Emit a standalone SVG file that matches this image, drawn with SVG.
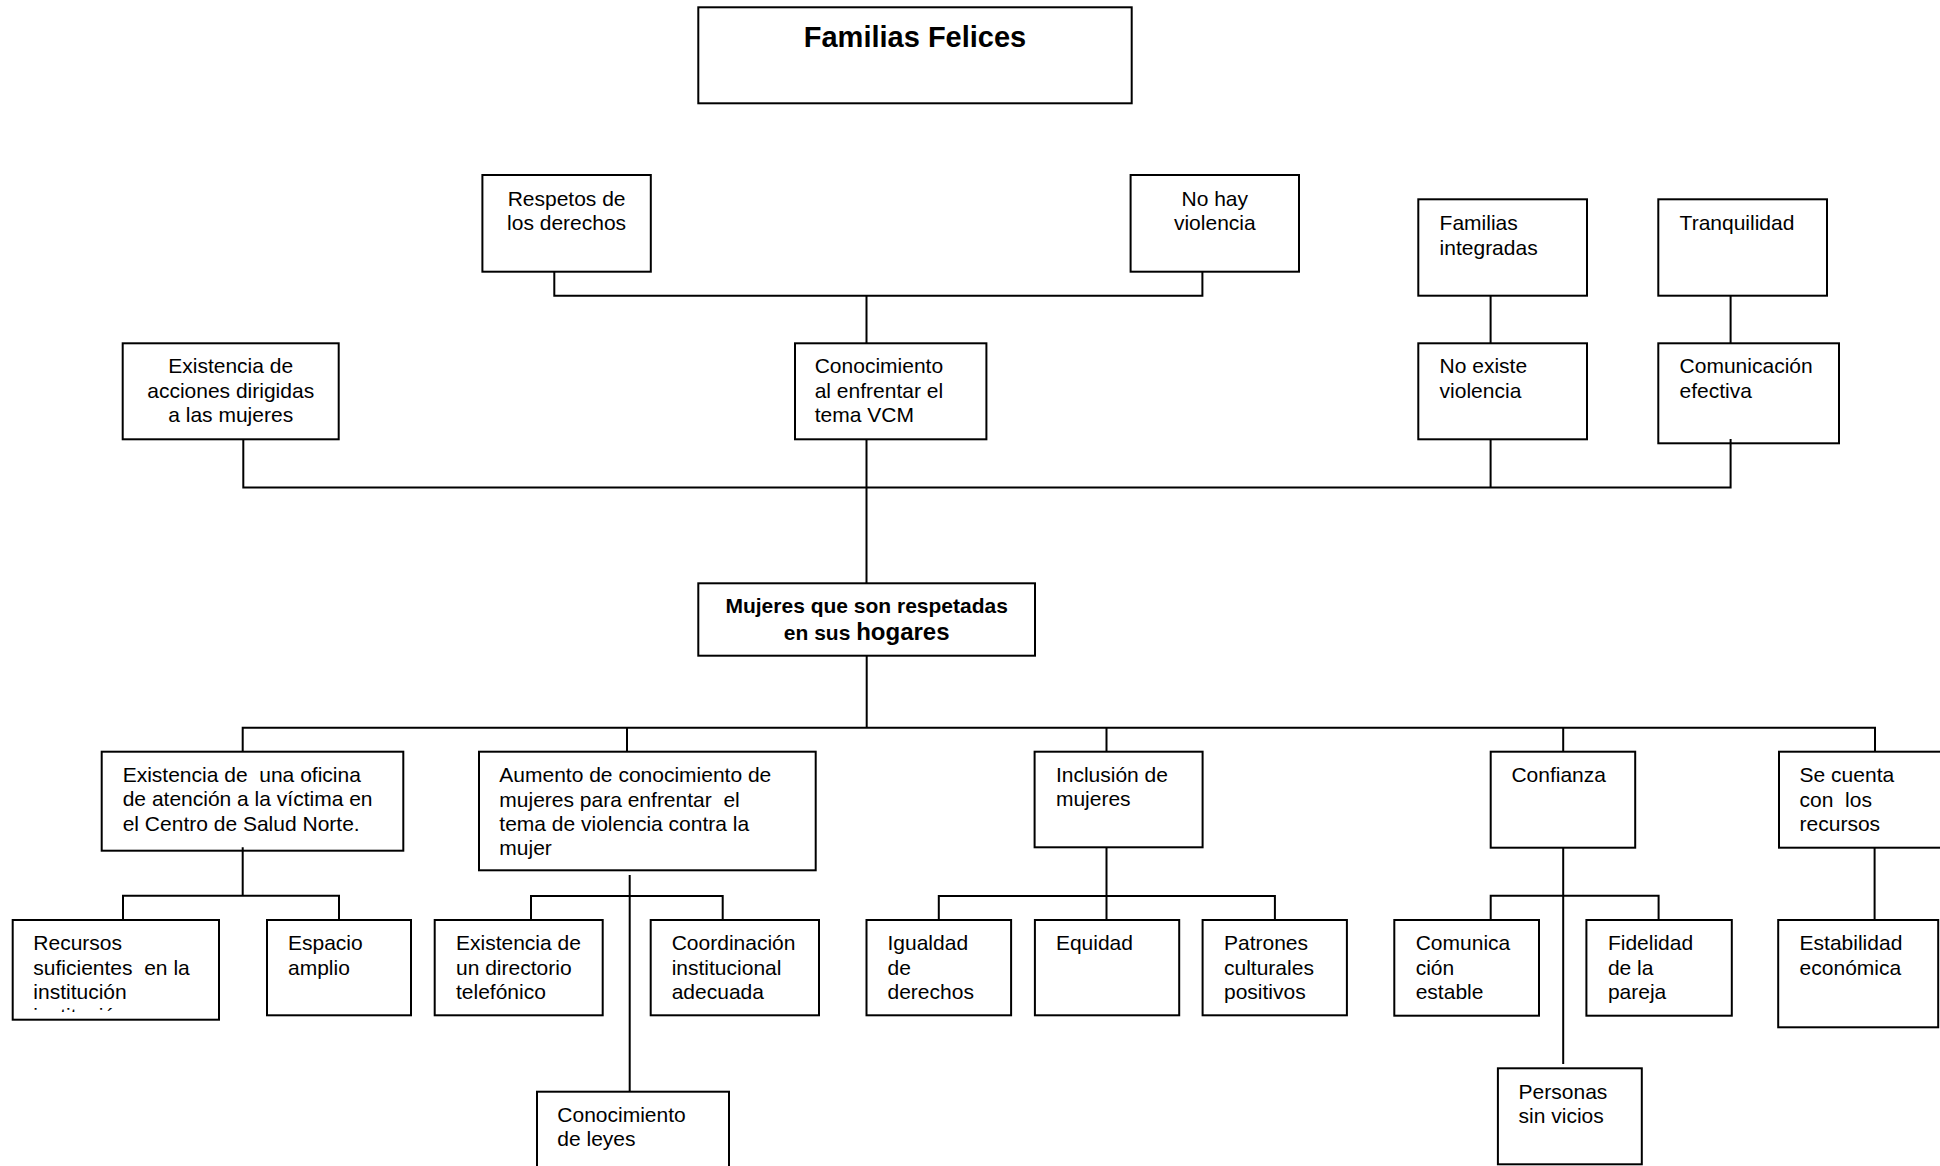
<svg xmlns="http://www.w3.org/2000/svg" width="1940" height="1166" viewBox="0 0 1940 1166">
<style>
.box{fill:#fff;stroke:#000;stroke-width:2}
.t{font-family:"Liberation Sans",Arial,sans-serif;font-size:21px;fill:#000}
.c{text-anchor:middle}
.b{font-weight:bold}
.conn{fill:none;stroke:#000;stroke-width:2}
</style>
<defs>
<clipPath id="clipRec"><rect x="14" y="930" width="204" height="82"/></clipPath>
</defs>
<rect x="0" y="0" width="1940" height="1166" fill="#fff"/>
<g id="n-familias"><rect class="box" x="698.3" y="7.3" width="433.4" height="96"/><text class="t b c" x="915" y="46.7" style="font-size:29px">Familias Felices</text></g>
<g id="n-respetos"><rect class="box" x="482.4" y="175" width="168.4" height="96.7"/><text class="t c"><tspan x="566.6" y="205.7">Respetos de</tspan><tspan x="566.6" y="230">los derechos</tspan></text></g>
<g id="n-nohay"><rect class="box" x="1130.6" y="175" width="168.4" height="96.7"/><text class="t c"><tspan x="1214.8" y="205.7">No hay</tspan><tspan x="1214.8" y="230">violencia</tspan></text></g>
<g id="n-famint"><rect class="box" x="1418.3" y="199.3" width="168.7" height="96.4"/><text class="t"><tspan x="1439.6" y="230">Familias</tspan><tspan x="1439.6" y="254.7">integradas</tspan></text></g>
<g id="n-tranq"><rect class="box" x="1658.3" y="199.3" width="168.7" height="96.4"/><text class="t"><tspan x="1679.6" y="230">Tranquilidad</tspan></text></g>
<g id="n-acciones"><rect class="box" x="122.7" y="343.3" width="216" height="96"/><text class="t c"><tspan x="230.7" y="373.3">Existencia de</tspan><tspan x="230.7" y="398">acciones dirigidas</tspan><tspan x="230.7" y="422.3">a las mujeres</tspan></text></g>
<g id="n-conoc"><rect class="box" x="795" y="343.3" width="191.4" height="96"/><text class="t"><tspan x="814.7" y="373.3">Conocimiento</tspan><tspan x="814.7" y="398">al enfrentar el</tspan><tspan x="814.7" y="422.3">tema VCM</tspan></text></g>
<g id="n-noexiste"><rect class="box" x="1418.3" y="343.3" width="168.7" height="96"/><text class="t"><tspan x="1439.6" y="373.3">No existe</tspan><tspan x="1439.6" y="398">violencia</tspan></text></g>
<g id="n-comef"><rect class="box" x="1658.3" y="343.3" width="180.7" height="100"/><text class="t"><tspan x="1679.6" y="373.3">Comunicación</tspan><tspan x="1679.6" y="398">efectiva</tspan></text></g>
<g id="n-mujeres"><rect class="box" x="698.3" y="583.3" width="336.7" height="72.4"/><text class="t b c"><tspan x="866.7" y="613.3">Mujeres que son respetadas</tspan><tspan x="866.7" y="640">en sus <tspan style="font-size:24px">hogares</tspan></tspan></text></g>
<g id="n-oficina"><rect class="box" x="101.7" y="751.7" width="301.6" height="99"/><text class="t" xml:space="preserve"><tspan x="122.7" y="781.7">Existencia de  una oficina</tspan><tspan x="122.7" y="806.3">de atención a la víctima en</tspan><tspan x="122.7" y="830.7">el Centro de Salud Norte.</tspan></text></g>
<g id="n-aumento"><rect class="box" x="479" y="751.7" width="336.7" height="118.6"/><text class="t" xml:space="preserve"><tspan x="499.3" y="781.7">Aumento de conocimiento de</tspan><tspan x="499.3" y="806.5">mujeres para enfrentar  el</tspan><tspan x="499.3" y="830.7">tema de violencia contra la</tspan><tspan x="499.3" y="855">mujer</tspan></text></g>
<g id="n-inclusion"><rect class="box" x="1034.6" y="751.7" width="168" height="95.6"/><text class="t"><tspan x="1055.9" y="781.7">Inclusión de</tspan><tspan x="1055.9" y="806.3">mujeres</tspan></text></g>
<g id="n-confianza"><rect class="box" x="1490.7" y="751.7" width="144.5" height="96"/><text class="t"><tspan x="1511.4" y="781.7">Confianza</tspan></text></g>
<g id="n-secuenta"><rect class="box" x="1779" y="751.7" width="180" height="96"/><text class="t" xml:space="preserve"><tspan x="1799.6" y="781.7">Se cuenta</tspan><tspan x="1799.6" y="806.5">con  los</tspan><tspan x="1799.6" y="830.7">recursos</tspan></text></g>
<g id="n-recursos"><rect class="box" x="12.7" y="920" width="206.3" height="99.7"/><text class="t" xml:space="preserve"><tspan x="33.3" y="950">Recursos</tspan><tspan x="33.3" y="974.5">suficientes  en la</tspan><tspan x="33.3" y="998.5">institución</tspan></text><text class="t" x="33.3" y="1023" clip-path="url(#clipRec)">institución</text></g>
<g id="n-espacio"><rect class="box" x="267" y="920" width="144" height="95.3"/><text class="t"><tspan x="288" y="950">Espacio</tspan><tspan x="288" y="974.5">amplio</tspan></text></g>
<g id="n-directorio"><rect class="box" x="434.7" y="920" width="168" height="95.3"/><text class="t"><tspan x="456" y="950">Existencia de</tspan><tspan x="456" y="974.5">un directorio</tspan><tspan x="456" y="998.5">telefónico</tspan></text></g>
<g id="n-coord"><rect class="box" x="650.7" y="920" width="168.3" height="95.3"/><text class="t"><tspan x="671.7" y="950">Coordinación</tspan><tspan x="671.7" y="974.5">institucional</tspan><tspan x="671.7" y="998.5">adecuada</tspan></text></g>
<g id="n-igualdad"><rect class="box" x="866.5" y="920" width="144.6" height="95.3"/><text class="t"><tspan x="887.5" y="950">Igualdad</tspan><tspan x="887.5" y="974.5">de</tspan><tspan x="887.5" y="998.5">derechos</tspan></text></g>
<g id="n-equidad"><rect class="box" x="1034.9" y="920" width="144.3" height="95.3"/><text class="t"><tspan x="1055.9" y="950">Equidad</tspan></text></g>
<g id="n-patrones"><rect class="box" x="1202.6" y="920" width="144.3" height="95.3"/><text class="t"><tspan x="1224" y="950">Patrones</tspan><tspan x="1224" y="974.5">culturales</tspan><tspan x="1224" y="998.5">positivos</tspan></text></g>
<g id="n-comunica"><rect class="box" x="1394.3" y="920" width="144.7" height="95.7"/><text class="t"><tspan x="1415.7" y="950">Comunica</tspan><tspan x="1415.7" y="974.5">ción</tspan><tspan x="1415.7" y="998.5">estable</tspan></text></g>
<g id="n-fidelidad"><rect class="box" x="1586.4" y="920" width="145.4" height="95.7"/><text class="t"><tspan x="1607.9" y="950">Fidelidad</tspan><tspan x="1607.9" y="974.5">de la</tspan><tspan x="1607.9" y="998.5">pareja</tspan></text></g>
<g id="n-estabilidad"><rect class="box" x="1778.2" y="920" width="160" height="107.3"/><text class="t"><tspan x="1799.6" y="950">Estabilidad</tspan><tspan x="1799.6" y="974.5">económica</tspan></text></g>
<g id="n-leyes"><rect class="box" x="537" y="1091.7" width="192" height="90"/><text class="t"><tspan x="557.3" y="1121.7">Conocimiento</tspan><tspan x="557.3" y="1146">de leyes</tspan></text></g>
<g id="n-personas"><rect class="box" x="1497.9" y="1068.3" width="143.9" height="96"/><text class="t"><tspan x="1518.6" y="1099">Personas</tspan><tspan x="1518.6" y="1123.3">sin vicios</tspan></text></g>
<g id="connectors" class="conn">
<path d="M554.3 271.7V295.7H1202.4V271.7M866.5 295.7V343.3"/>
<path d="M1490.6 295.7V343.3M1730.6 295.7V343.3"/>
<path d="M243.3 439.3V487.5H1730.6V439M866.5 439.3V583.3M1490.6 439.3V487.5"/>
<path d="M866.7 655.7V727.7M242.7 751.7V727.7H1875V751.7M627 727.7V751.7M1106.5 727.7V751.7M1563.2 727.7V751.7"/>
<path d="M242.7 847.3V895.7M123 920V895.7H339V920"/>
<path d="M629.7 875V1091.7M531 920V896H722.7V920"/>
<path d="M1106.5 847.3V920M938.8 920V896H1274.9V920"/>
<path d="M1563.2 847.7V1064M1490.7 920V895.7H1658.6V920"/>
<path d="M1874.6 847.7V920"/>
</g>
</svg>
